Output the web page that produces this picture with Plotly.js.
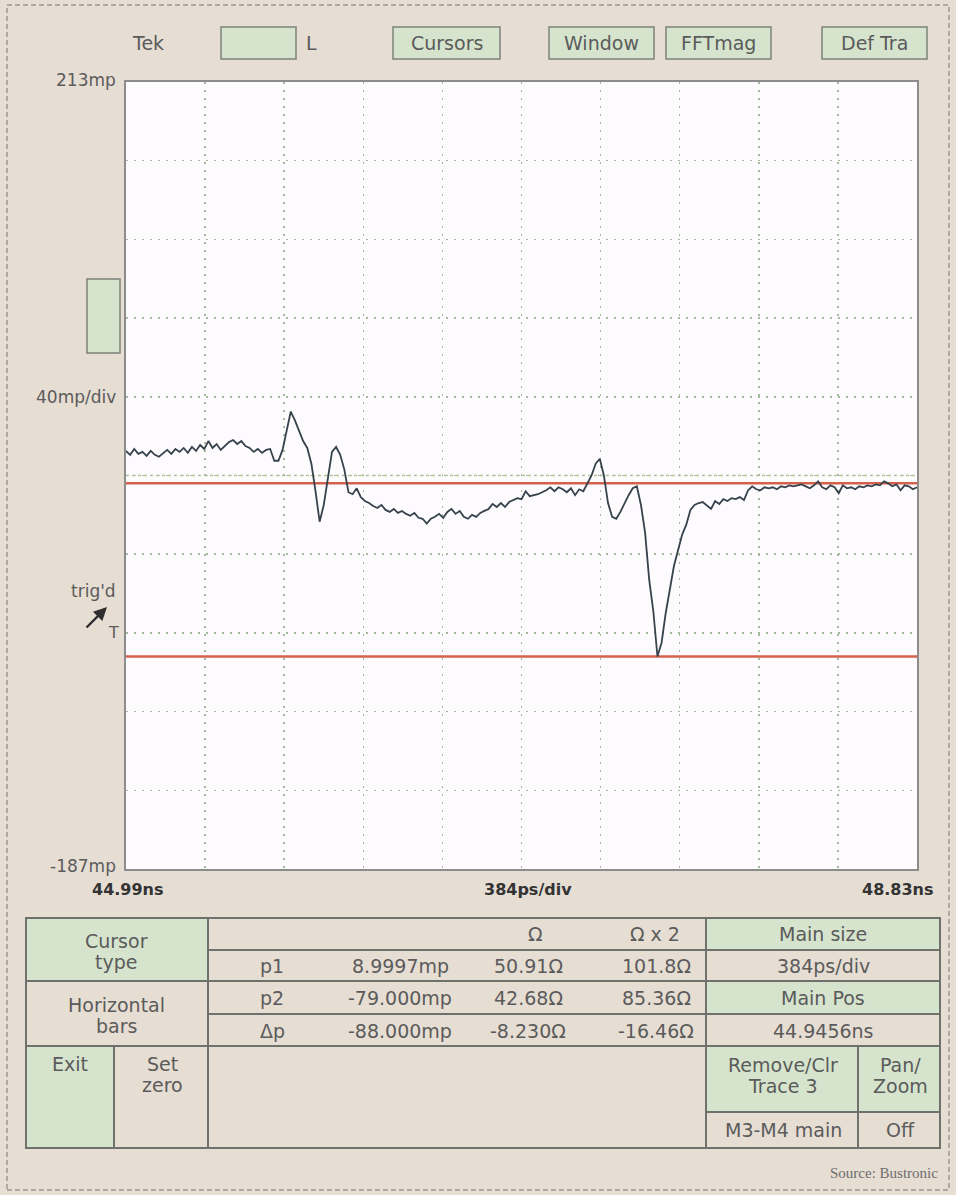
<!DOCTYPE html>
<html><head><meta charset="utf-8">
<script src="https://cdn.plot.ly/plotly-3.0.1.min.js"></script>
<style>html,body{margin:0;padding:0;background:#e6ddd3;} #chart{width:956px;height:1195px;}</style>
</head><body><div id="chart"></div>
<script>
// ---------------- DATA ----------------
const times = [
44.99,45.01,45.03,45.05,45.07,45.09,45.11,45.13,45.15,45.17,
45.19,45.21,45.23,45.25,45.27,45.29,45.31,45.33,45.35,45.37,
45.39,45.41,45.43,45.45,45.47,45.49,45.51,45.53,45.55,45.57,
45.59,45.61,45.63,45.65,45.67,45.69,45.71,45.73,45.75,45.77,
45.79,45.81,45.83,45.85,45.87,45.89,45.91,45.93,45.95,45.97,
45.99,46.01,46.03,46.05,46.07,46.09,46.11,46.13,46.15,46.17,
46.19,46.21,46.23,46.25,46.27,46.29,46.31,46.33,46.35,46.37,
46.39,46.41,46.43,46.45,46.47,46.49,46.51,46.53,46.55,46.57,
46.59,46.61,46.63,46.65,46.67,46.69,46.71,46.73,46.75,46.77,
46.79,46.81,46.83,46.85,46.87,46.89,46.91,46.93,46.95,46.97,
46.99,47.01,47.03,47.05,47.07,47.09,47.11,47.13,47.15,47.17,
47.19,47.21,47.23,47.25,47.27,47.29,47.31,47.33,47.35,47.37,
47.39,47.41,47.43,47.45,47.47,47.49,47.51,47.53,47.55,47.57,
47.59,47.61,47.63,47.65,47.67,47.69,47.71,47.73,47.75,47.77,
47.79,47.81,47.83,47.85,47.87,47.89,47.91,47.93,47.95,47.97,
47.99,48.01,48.03,48.05,48.07,48.09,48.11,48.13,48.15,48.17,
48.19,48.21,48.23,48.25,48.27,48.29,48.31,48.33,48.35,48.37,
48.39,48.41,48.43,48.45,48.47,48.49,48.51,48.53,48.55,48.57,
48.59,48.61,48.63,48.65,48.67,48.69,48.71,48.73,48.75,48.77,
48.79,48.81,48.83];
const values = [
25.5,23.5,26.5,24.0,25.0,23.0,25.5,23.5,22.5,24.5,
26.0,24.0,26.5,25.0,27.0,24.5,27.5,25.5,28.5,26.5,
30.5,27.0,29.0,26.0,28.0,30.0,31.0,29.0,30.5,28.0,
27.0,25.0,26.5,24.5,26.0,26.5,20.5,20.5,26.0,36.0,
45.5,41.0,35.5,30.5,27.0,19.0,5.0,-10.5,-2.0,11.0,
25.0,27.5,23.5,16.0,4.5,3.5,6.5,2.0,0.0,-1.0,
-2.5,-3.5,-2.0,-4.5,-5.5,-4.0,-6.0,-5.0,-6.5,-7.5,
-6.0,-8.5,-9.0,-11.5,-9.0,-8.0,-6.5,-8.5,-5.5,-4.0,
-6.5,-5.0,-8.0,-9.0,-7.0,-8.0,-6.0,-5.0,-4.0,-1.5,
-3.0,-1.0,-3.0,-0.5,0.5,1.5,1.0,5.0,2.5,3.0,
3.5,4.5,5.5,7.0,5.0,7.0,6.0,4.5,6.5,3.0,
6.0,5.0,9.0,13.0,19.0,21.5,13.0,-1.0,-8.0,-9.0,
-5.5,-1.0,3.0,6.5,7.5,-2.0,-16.0,-40.0,-56.0,-79.0,
-72.0,-57.0,-44.0,-33.0,-25.0,-17.0,-12.0,-4.5,-2.0,-1.0,
-0.5,-2.5,-4.0,0.0,-1.5,1.0,0.0,1.5,1.0,2.0,
0.5,5.5,7.5,6.0,5.5,7.0,6.5,7.0,6.0,7.5,
7.0,8.0,7.5,8.0,8.5,7.5,6.5,8.0,10.0,7.0,
6.0,8.0,7.0,4.0,8.0,6.5,7.0,6.0,7.5,7.0,
8.0,7.5,8.5,8.0,10.0,9.0,7.5,8.5,5.5,8.0,
7.5,6.0,7.0];
const cursorValues = [8.9997, -79.0];          // p1, p2 (mp)
const xRange = [44.99, 48.83];                 // ns
const yRange = [-187, 213];                    // mp
const xDiv = 0.384, yDiv = 40;
const yLabels = ['213mp', '40mp/div', '-187mp'];
const xLabels = ['44.99ns', '384ps/div', '48.83ns'];
const topButtons = ['', 'Cursors', 'Window', 'FFTmag', 'Def Tra'];
const rowLabels = ['p1', 'p2', '\u0394p'];
const pValues = ['8.9997mp', '-79.000mp', '-88.000mp'];
const ohmValues = ['50.91\u03A9', '42.68\u03A9', '-8.230\u03A9'];
const ohm2Values = ['101.8\u03A9', '85.36\u03A9', '-16.46\u03A9'];
const rightValues = ['Main size', '384ps/div', 'Main Pos', '44.9456ns'];

// ---------------- LAYOUT HELPERS ----------------
const L=126, R=917, T=82, B=869;
const X = px => (px-L)/(R-L);
const Y = py => (B-py)/(B-T);
const FONT = 'DejaVu Sans';
const TXT = '#5b5b5b';
const GREEN = '#d6e4cd', EDGE = '#6e716c';
const shapes = [], annotations = [];
function rect(x0,y0,x1,y1,fill,lc,lw,dash){
  shapes.push({type:'rect',xref:'paper',yref:'paper',x0:X(x0),x1:X(x1),y0:Y(y1),y1:Y(y0),
    fillcolor:fill,line:{color:lc,width:lw,dash:dash||'solid'},layer:'above'});
}
function hline(x0,x1,y,c,w){shapes.push({type:'line',xref:'paper',yref:'paper',x0:X(x0),x1:X(x1),y0:Y(y),y1:Y(y),line:{color:c,width:w},layer:'above'});}
function vline(x,y0,y1,c,w){shapes.push({type:'line',xref:'paper',yref:'paper',x0:X(x),x1:X(x),y0:Y(y0),y1:Y(y1),line:{color:c,width:w},layer:'above'});}
function txt(px,py,text,size,opts,fontOpts){
  annotations.push(Object.assign({xref:'paper',yref:'paper',x:X(px),y:Y(py),text:text,showarrow:false,
    xanchor:'center',yanchor:'middle',font:Object.assign({family:FONT,size:size,color:TXT},fontOpts||{})},opts||{}));
}

// outer dashed border
rect(7,5,949,1190,'rgba(0,0,0,0)','#9b9893',1.5,'5px,3px');

// top buttons
txt(148,43,'Tek',19);
const btnX = [[221,296],[393,500],[549,654],[666,771],[822,927]];
topButtons.forEach((b,i)=>{
  rect(btnX[i][0],27,btnX[i][1],59,GREEN,'#7d827b',1.5);
  if(b) txt((btnX[i][0]+btnX[i][1])/2,43,b,19);
});
txt(311,43,'L',19);

// left side labels
rect(87,279,120,353,GREEN,'#7d827b',1.5);
txt(118,80,yLabels[0],17,{xanchor:'right'});
txt(118,397,yLabels[1],17,{xanchor:'right'});
txt(118,866,yLabels[2],17,{xanchor:'right'});
txt(118,591,"trig'd",17,{xanchor:'right'});
txt(113,632,'T',16);
annotations.push({xref:'paper',yref:'paper',x:X(107),y:Y(607),ax:-22,ay:22,text:'',showarrow:true,
  arrowhead:2,arrowsize:1.1,arrowwidth:2.4,arrowcolor:'#2e2e2e',standoff:0,startstandoff:0});

// bottom axis labels
txt(128,890,xLabels[0],16,{},{color:'#333',weight:'bold'});
txt(528,890,xLabels[1],16,{},{color:'#333',weight:'bold'});
txt(898,890,xLabels[2],16,{},{color:'#333',weight:'bold'});

// table
rect(26,918,208,981,GREEN,'rgba(0,0,0,0)',0);
rect(26,1046,114,1148,GREEN,'rgba(0,0,0,0)',0);
rect(706,918,940,950,GREEN,'rgba(0,0,0,0)',0);
rect(706,981,940,1014,GREEN,'rgba(0,0,0,0)',0);
rect(706,1046,858,1112,GREEN,'rgba(0,0,0,0)',0);
rect(858,1046,940,1112,GREEN,'rgba(0,0,0,0)',0);
rect(26,918,940,1148,'rgba(0,0,0,0)',EDGE,2);
hline(208,940,950,EDGE,2);
hline(26,940,981,EDGE,2);
hline(208,940,1014,EDGE,2);
hline(26,940,1046,EDGE,2);
hline(706,940,1112,EDGE,2);
vline(208,918,1148,EDGE,2);
vline(706,918,1148,EDGE,2);
vline(114,1046,1148,EDGE,2);
vline(858,1046,1148,EDGE,2);

const TS = 19;
txt(116,941,'Cursor',TS); txt(116,962,'type',TS);
txt(116,1005,'Horizontal',TS); txt(116,1026,'bars',TS);
txt(70,1064,'Exit',TS); txt(162,1064,'Set',TS); txt(162,1085,'zero',TS);
txt(535,934,'\u03A9',TS); txt(655,934,'\u03A9 x 2',TS);
const rowY = [966,998,1031];
rowLabels.forEach((r,i)=>{
  txt(272,rowY[i],r,TS);
  txt(400,rowY[i],pValues[i],TS);
  txt(528,rowY[i],ohmValues[i],TS);
  txt(656,rowY[i],ohm2Values[i],TS);
});
const rY = [934,966,998,1031];
rightValues.forEach((v,i)=>txt(823,rY[i],v,TS));
txt(783,1065,'Remove/Clr',TS); txt(783,1086,'Trace 3',TS);
txt(900,1065,'Pan/',TS); txt(900,1086,'Zoom',TS);
txt(783,1130,'M3-M4 main',TS); txt(900,1130,'Off',TS);
txt(940,1173,'Source: Bustronic',15,{xanchor:'right'},{family:'Liberation Serif',color:'#6e6e6e'});

// center reference line (screen centre)
shapes.push({type:'line',xref:'paper',yref:'y',x0:0,x1:1,y0:(yRange[0]+yRange[1])/2,y1:(yRange[0]+yRange[1])/2,
  line:{color:'#b8c98f',width:1.5,dash:'3px,3px'},layer:'below'});

// ---------------- TRACES ----------------
const traces = [];
cursorValues.forEach(c=>traces.push({x:[xRange[0],xRange[1]],y:[c,c],mode:'lines',
  line:{color:'#d5604b',width:2.5},hoverinfo:'skip'}));
traces.push({x:times,y:values,mode:'lines',line:{color:'#37434c',width:1.8,shape:'linear'},hoverinfo:'skip'});

const axisCommon = {showticklabels:false,ticks:'',zeroline:false,showline:true,mirror:true,
  linecolor:'#8c8c8c',linewidth:2,showgrid:true,gridcolor:'#a3bb9c',gridwidth:1.5,griddash:'2px,6px',fixedrange:true};
const layout = {
  width:956,height:1195,autosize:false,
  margin:{l:L,r:956-R,t:T,b:1195-B,pad:0},
  paper_bgcolor:'#e6ddd3',plot_bgcolor:'#fdfbfe',
  showlegend:false,hovermode:false,
  xaxis:Object.assign({range:xRange,tick0:xRange[0],dtick:xDiv},axisCommon),
  yaxis:Object.assign({range:yRange,tick0:yRange[0],dtick:yDiv},axisCommon),
  shapes:shapes,annotations:annotations
};
Plotly.newPlot('chart',traces,layout,{staticPlot:true,displayModeBar:false});
</script></body></html>
